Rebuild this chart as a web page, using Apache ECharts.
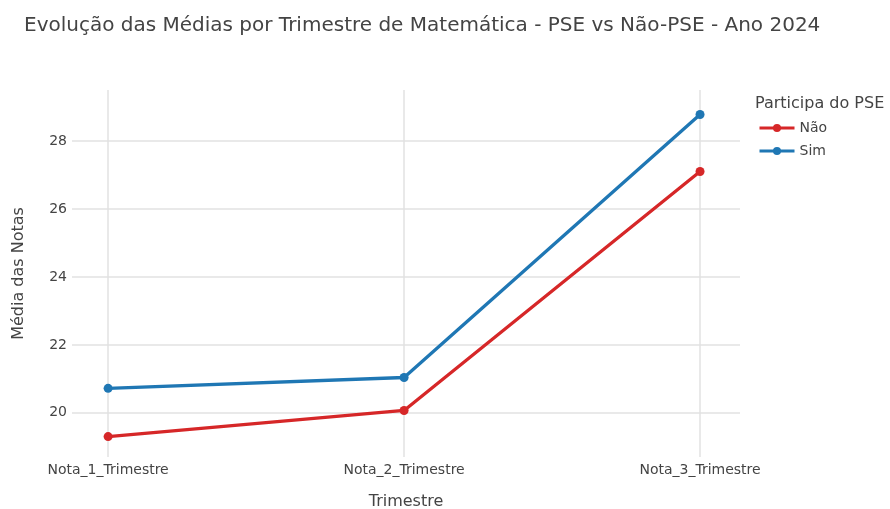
<!DOCTYPE html>
<html>
<head>
<meta charset="utf-8">
<script src="https://cdn.jsdelivr.net/npm/echarts@6/dist/echarts.min.js"></script>
<style>
  html, body { margin: 0; padding: 0; background: #fff; }
  #chart { width: 890px; height: 509px; }
</style>
</head>
<body>
<div id="chart"></div>
<script>
// dados
const trimestres = ['Nota_1_Trimestre', 'Nota_2_Trimestre', 'Nota_3_Trimestre']
const naoPse = [19.3, 20.07, 27.1]
const simPse = [20.72, 21.04, 28.78]
const yTicks = [20, 22, 24, 26, 28]

const font = '"DejaVu Sans", Verdana, sans-serif'
const txt = '#444'

function pontos(vals) {
  return vals.map((v, i) => [i, v])
}

const chart = echarts.init(document.getElementById('chart'))
chart.setOption({
  animation: false,
  textStyle: { fontFamily: font },
  title: [
    {
      text: 'Evolução das Médias por Trimestre de Matemática - PSE vs Não-PSE - Ano 2024',
      left: 24,
      top: 16,
      padding: 0,
      textStyle: { fontFamily: font, fontSize: 20, fontWeight: 'normal', color: txt }
    },
    {
      text: 'Participa do PSE',
      left: 755,
      top: 96,
      padding: 0,
      textStyle: { fontFamily: font, fontSize: 16, fontWeight: 'normal', color: txt }
    }
  ],
  legend: {
    orient: 'vertical',
    left: 758,
    top: 121,
    padding: 0,
    itemWidth: 35,
    itemHeight: 10,
    itemGap: 9,
    lineStyle: { width: 3 },
    textStyle: { fontFamily: font, fontSize: 14, color: txt },
    data: ['Não', 'Sim']
  },
  grid: { left: 72, right: 150, top: 90, bottom: 52, outerBoundsMode: 'none', containLabel: false },
  xAxis: {
    type: 'value',
    min: -0.122,
    max: 2.135,
    name: 'Trimestre',
    nameLocation: 'middle',
    nameGap: 37,
    nameTextStyle: { fontFamily: font, fontSize: 16, color: txt },
    axisLine: { show: false },
    axisTick: { show: false, customValues: [0, 1, 2] },
    axisLabel: {
      customValues: [0, 1, 2],
      formatter: v => trimestres[v],
      fontFamily: font, fontSize: 14, color: txt, margin: 6
    },
    splitLine: { show: true, lineStyle: { color: '#e2e2e2', width: 1.5 } }
  },
  yAxis: {
    type: 'value',
    min: 18.7,
    max: 29.5,
    name: 'Média das Notas',
    nameLocation: 'middle',
    nameGap: 45,
    nameTextStyle: { fontFamily: font, fontSize: 16, color: txt },
    axisLine: { show: false },
    axisTick: { show: false, customValues: yTicks },
    axisLabel: { customValues: yTicks, fontFamily: font, fontSize: 14, color: txt, margin: 5 },
    splitLine: { show: true, lineStyle: { color: '#e2e2e2', width: 1.5 } }
  },
  series: [
    {
      name: 'Não',
      type: 'line',
      data: pontos(naoPse),
      symbol: 'circle',
      symbolSize: 9,
      color: '#d62728',
      lineStyle: { width: 3.3 }
    },
    {
      name: 'Sim',
      type: 'line',
      data: pontos(simPse),
      symbol: 'circle',
      symbolSize: 9,
      color: '#1f77b4',
      lineStyle: { width: 3.3 }
    }
  ]
})
</script>
</body>
</html>
